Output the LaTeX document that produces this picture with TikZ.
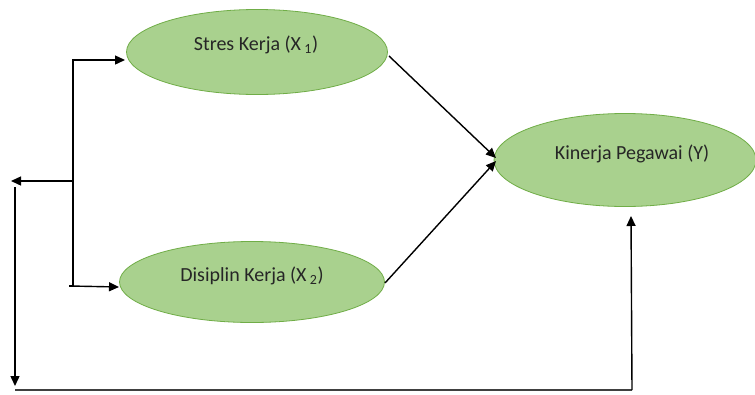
\documentclass[tikz,border=0pt]{standalone}
\usepackage{fontspec}
\setmainfont{Carlito}
\usetikzlibrary{shapes.geometric,arrows.meta}
\definecolor{ellfill}{HTML}{A9D18E}
\definecolor{ellline}{HTML}{70AD47}
\begin{document}
\begin{tikzpicture}[x=1pt,y=-1pt,
  ell/.style={ellipse, fill=ellfill, draw=ellline, line width=0.8pt, inner sep=0pt},
  lbl/.style={font=\fontsize{20}{24}\selectfont, text=black!85, inner sep=0pt},
  conn/.style={line width=1.4pt, -{Triangle[length=10pt,width=9pt]}},
  plainln/.style={line width=1.4pt, line cap=rect}]
\useasboundingbox (0,0) rectangle (755,394);
\fill[white] (0,0) rectangle (755,394);
% ellipses
\node[ell, minimum width=261pt, minimum height=85pt] (e1) at (257,52) {};
\node[ell, minimum width=265pt, minimum height=81pt] (e2) at (252,282) {};
\node[ell, minimum width=262pt, minimum height=93pt] (e3) at (625,160) {};
\node[lbl] (t1) at (256,45) {Stres Kerja (X\,\textsubscript{1})};
\node[lbl] (t2) at (252,276) {Disiplin Kerja (X\,\textsubscript{2})};
\node[lbl] (t3) at (632,154) {Kinerja Pegawai (Y)};
% junction coordinates
\coordinate (ja) at (73,60);
\coordinate (jb) at (73,181);
\coordinate (jc) at (70,286);
\coordinate (ea) at (125,60);
\coordinate (eb) at (119,287);
\coordinate (la) at (11,181);
\coordinate (lt) at (15,187);
\coordinate (lb) at (15,386);
\coordinate (bl) at (15,390);
\coordinate (br) at (632,390);
\coordinate (rt) at (631,216);
\coordinate (d1) at (389,56);
\coordinate (d2) at (385,283);
\coordinate (y1) at (496,158);
\coordinate (y2) at (496,161);
% connectors
\draw[plainln] (ja) -- (73,286) -- (jc);
\draw[conn] (ja) -- (ea);
\draw[conn] (jc) -- (eb);
\draw[conn] (jb) -- (la);
\draw[conn] (lt) -- (lb);
\draw[line width=1.2pt, black!75] (bl) -- (br);
\draw[conn] (br) -- (rt);
\draw[conn] (d1) -- (y1);
\draw[conn] (d2) -- (y2);
\end{tikzpicture}
\end{document}
